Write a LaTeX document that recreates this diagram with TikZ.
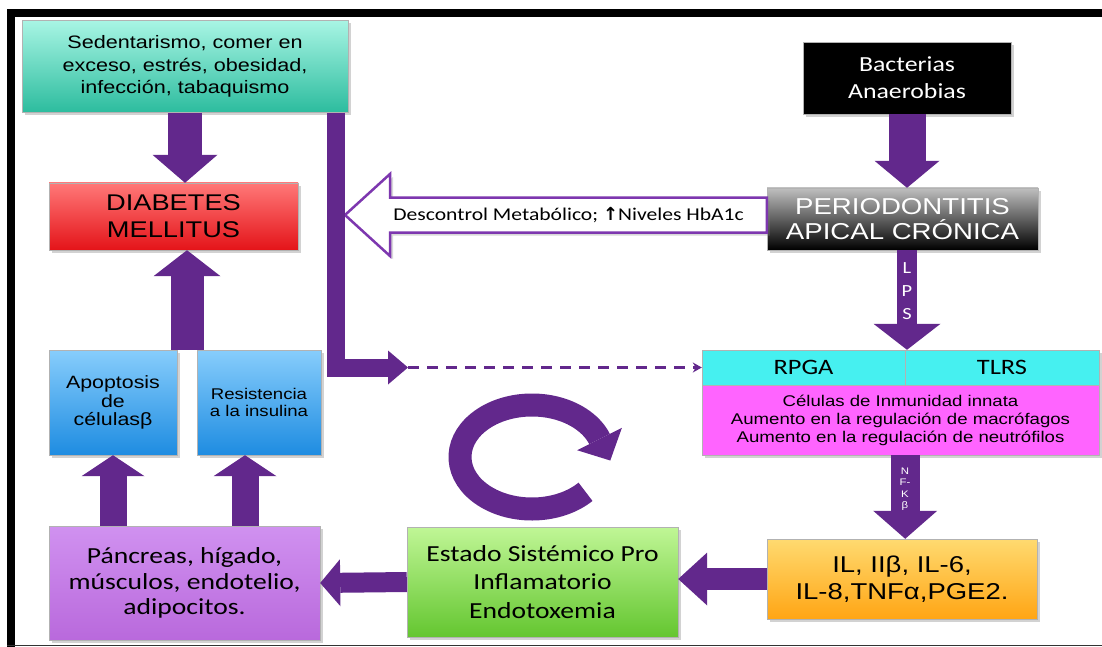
\documentclass[tikz,border=0pt]{standalone}
\usepackage{fontspec}
\setmainfont{Liberation Sans}[FakeStretch=1.2]
\newfontfamily\calfont{Carlito}[FakeStretch=1.2]
\newfontfamily\symfont{DejaVu Sans}
\usepackage{xcolor}
\usepackage{tikz}
\usetikzlibrary{calc, arrows.meta, shadows}

\definecolor{arrowpurple}{RGB}{98,40,140}
\definecolor{hollowpurple}{RGB}{125,55,175}
\definecolor{tealtop}{RGB}{168,245,228}
\definecolor{tealbot}{RGB}{44,188,158}
\definecolor{redtop}{RGB}{255,120,120}
\definecolor{redbot}{RGB}{228,20,25}
\definecolor{bluetop}{RGB}{135,205,252}
\definecolor{bluebot}{RGB}{30,140,225}
\definecolor{violettop}{RGB}{208,145,240}
\definecolor{violetbot}{RGB}{185,105,220}
\definecolor{greentop}{RGB}{192,246,150}
\definecolor{greenbot}{RGB}{100,198,48}
\definecolor{orangetop}{RGB}{255,218,112}
\definecolor{orangebot}{RGB}{255,165,20}
\definecolor{cyanbox}{RGB}{70,240,240}
\definecolor{pinkbox}{RGB}{255,100,255}

\begin{document}
\begin{tikzpicture}[x=1pt, y=-1pt,
    box/.style={draw=black!30, line width=0.4pt, align=center, inner sep=1pt,
      drop shadow={opacity=0.35, shadow xshift=3pt, shadow yshift=-3pt}},
    fat/.style n args={3}{draw=arrowpurple, line width=#1,
      -{Triangle[width=#2, length=#3, line width=0pt]}},
    hollow/.style={draw=hollowpurple, line width=2.5pt, fill=white, line join=miter,
      drop shadow={opacity=0.3, shadow xshift=3pt, shadow yshift=-3pt}},
    dashline/.style={arrowpurple, line width=2.5pt, dash pattern=on 11pt off 8pt,
      -{Stealth[length=9pt, width=10pt]}}
  ]
        \useasboundingbox (0,0) rectangle (1102,647);
        \fill[white] (0,0) rectangle (1102,647);

        % Frame
        \draw[line width=8pt] (1110,13) -- (11,13) -- (11,650);
        \draw[line width=1.5pt, black!80] (7,645.5) -- (1110,645.5);

        % Left column
        \node[box, top color=tealtop, bottom color=tealbot, minimum width=326pt, minimum height=92pt,
          font=\fontsize{18}{22.5}\selectfont] (teal) at (185,66.5)
          {Sedentarismo, comer en\\ exceso, estrés, obesidad,\\ infección, tabaquismo};
        \node[box, top color=redtop, bottom color=redbot, minimum width=249pt, minimum height=67pt,
          font=\fontsize{22.7}{27}\selectfont] (diab) at (173.5,216.5) {DIABETES\\ MELLITUS};
        \node[box, top color=bluetop, bottom color=bluebot, minimum width=128pt, minimum height=105pt,
          font=\fontsize{17.8}{18.5}\selectfont] (apop) at (113,402.5) {Apoptosis\\ de\\ célulasβ};
        \node[box, top color=bluetop, bottom color=bluebot, minimum width=124pt, minimum height=105pt,
          font=\fontsize{15.5}{17.5}\selectfont] (resist) at (259,402.5) {Resistencia\\ a la insulina};
        \node[box, top color=violettop, bottom color=violetbot, minimum width=271pt, minimum height=114pt,
          font=\calfont\fontsize{23}{25.5}\selectfont] (panc) at (184.5,583)
          {Páncreas, hígado,\\ músculos, endotelio,\\ adipocitos.};

        % Right column
        \node[box, fill=black, text=white, minimum width=208pt, minimum height=72pt,
          font=\calfont\fontsize{21.5}{27}\selectfont] (bact) at (907,78) {Bacterias\\ Anaerobias};
        \node[box, top color=black!25, middle color=black!80, bottom color=black, text=white,
          minimum width=271pt, minimum height=62pt,
          font=\fontsize{23}{25}\selectfont] (perio) at (902.5,219) {PERIODONTITIS\\ APICAL CRÓNICA};
        \node[box, fill=cyanbox, minimum width=203pt, minimum height=35pt,
          font=\calfont\fontsize{22}{24}\selectfont] (rpga) at (803.5,367.5) {RPGA};
        \node[box, fill=cyanbox, minimum width=194pt, minimum height=35pt,
          font=\calfont\fontsize{22}{24}\selectfont] (tlrs) at (1002,367.5) {TLRS};
        \node[box, fill=pinkbox, minimum width=397pt, minimum height=70pt,
          font=\fontsize{15.5}{18}\selectfont] (cells) at (900.5,420)
          {Células de Inmunidad innata\\ Aumento en la regulación de macrófagos\\ Aumento en la regulación de neutrófilos};
        \node[box, top color=orangetop, bottom color=orangebot, minimum width=270pt, minimum height=80pt,
          font=\fontsize{22.9}{27}\selectfont] (orange) at (902,579) {IL, IIβ, IL-6,\\ IL-8,TNFα,PGE2.};
        \node[box, top color=greentop, bottom color=greenbot, minimum width=271pt, minimum height=110pt,
          font=\calfont\fontsize{23}{28.5}\selectfont] (green) at (542.5,582)
          {Estado Sistémico Pro\\ Inflamatorio\\ Endotoxemia};

        % Descontrol metabolico
        \coordinate (hbtip) at (345,215);
        \draw[hollow] ($(perio.west |- hbtip)+(0,-17.5)$) -- ($(hbtip)+(45,-17.5)$) -- ($(hbtip)+(45,-41)$)
          -- (hbtip) -- ($(hbtip)+(45,41)$) -- ($(hbtip)+(45,17.5)$) -- ($(perio.west |- hbtip)+(0,17.5)$) -- cycle;
        \node[font=\calfont\fontsize{18}{20}\selectfont, inner sep=0pt] (hba) at ($(hbtip)!0.53!(perio.west |- hbtip)$)
          {Descontrol Metabólico; {\symfont\bfseries ↑}Niveles HbA1c};

        % Fat arrows
        \draw[fat={34pt}{65pt}{28pt}] (teal.south) -- (teal.south |- diab.north);
        \coordinate (midblue) at ($(apop.north east)!.5!(resist.north west)$);
        \draw[fat={33pt}{67pt}{26pt}] (midblue) -- (midblue |- diab.south);
        \draw[fat={27pt}{63pt}{21pt}] (apop.south |- panc.north) -- (apop.south);
        \coordinate (rs) at ($(resist.south)+(-14,0)$);
        \draw[fat={27pt}{63pt}{21pt}] (rs |- panc.north) -- (rs);
        \draw[fat={20pt}{47pt}{20pt}] (green.west) -- (panc.east);
        \draw[fat={22pt}{53pt}{29pt}] (orange.west) -- (orange.west -| green.east);
        \draw[fat={37pt}{65pt}{27pt}] (bact.south) -- (bact.south |- perio.north);
        \draw[fat={20pt}{67pt}{26pt}] (bact.south |- perio.south) -- (bact.south |- rpga.north);
        \coordinate (nfk) at (rpga.south east |- cells.south);
        \draw[fat={29pt}{64pt}{28pt}] (nfk) -- (nfk |- orange.north);

        % L-shaped connector and dashed link
        \coordinate (bartop) at ($(teal.south east)+(-12.5,0)$);
        \coordinate (lend) at (408,367.5);
        \draw[fat={18pt}{34pt}{20pt}, line join=miter] (bartop) |- (lend);
        \draw[dashline] (lend) -- (rpga.west);

        % Labels on arrows
        \node[text=white, align=center, font=\calfont\fontsize{17}{23}\selectfont] (lps) at (907,291) {L\\ P\\ S};
        \node[text=white, align=center, font=\fontsize{9.5}{11.5}\selectfont] (nfkb) at (905,489) {N\\ F-\\ K\\ β};

        % Cycle arrow
        \coordinate (loopc) at (532,457);
        \draw[fat={23pt}{50pt}{24pt}] ($(loopc)+(42:72 and 52)$) arc[start angle=42, end angle=338, x radius=72, y radius=52]
          -- ++(11.5,23);
\end{tikzpicture}
\end{document}
